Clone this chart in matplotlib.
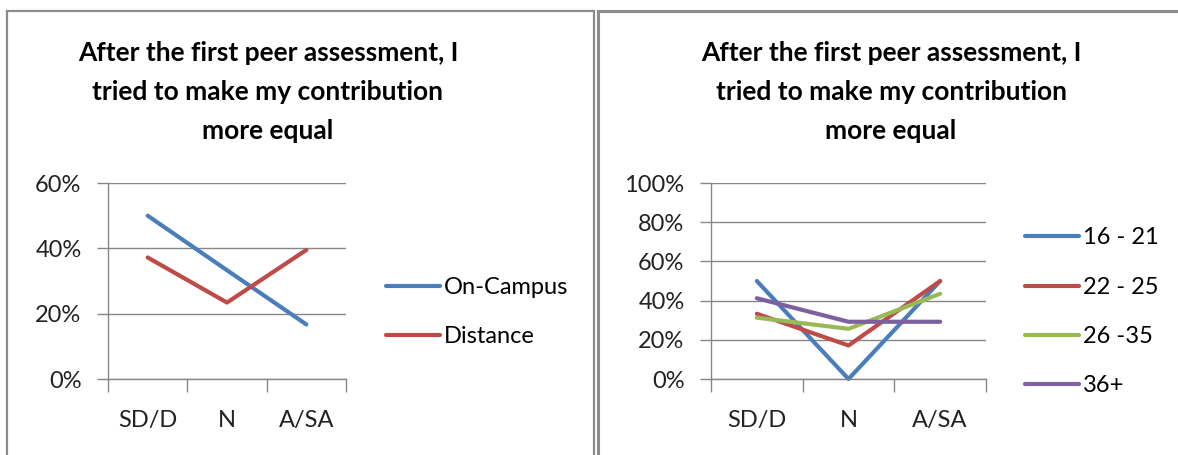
import numpy as np
import matplotlib.pyplot as plt
from matplotlib.patches import Rectangle
from matplotlib.ticker import FuncFormatter, FixedLocator

plt.rcParams['font.family'] = ['Lato', 'DejaVu Sans']

categories = ['SD/D', 'N', 'A/SA']
title = 'After the first peer assessment, I\ntried to make my contribution\nmore equal'

# left chart: study mode
mode_names = ['On-Campus', 'Distance']
on_campus = [50.0, 33.3, 16.7]
distance = [37.2, 23.4, 39.5]

# right chart: age groups
age_names = ['16 - 21', '22 - 25', '26 -35', '36+']
age_16_21 = [50.0, 0.0, 50.0]
age_22_25 = [33.3, 17.1, 50.0]
age_26_35 = [31.3, 25.6, 43.5]
age_36_up = [41.2, 29.2, 29.2]

colors = ['#4a7ebb', '#be4b48', '#98b954', '#7d60a0']
grid_col = '#868686'
FS = 17

W, H = 1178, 455
fig = plt.figure(figsize=(W / 100, H / 100), dpi=100)

def px(x0, y0, x1, y1):
    return [x0 / W, 1 - y1 / H, (x1 - x0) / W, (y1 - y0) / H]

# panel frames
fig.patches.append(Rectangle((7 / W, -0.1), (594 - 7) / W, 1.1 - 11 / H,
                             transform=fig.transFigure, fill=False,
                             edgecolor='#8c8c8c', linewidth=1.6))
fig.patches.append(Rectangle((598 / W, -0.1), 0.5, 1.1 - 11 / H,
                             transform=fig.transFigure, fill=False,
                             edgecolor='#8c8c8c', linewidth=2.2))


def setup(ax, ymax, step):
    ax.set_xlim(0, 3)
    ax.set_ylim(0, ymax)
    ax.set_yticks(np.arange(0, ymax + 1, step))
    ax.yaxis.set_major_formatter(FuncFormatter(lambda v, p: '%d%%' % v))
    ax.xaxis.set_major_locator(FixedLocator([0, 1, 2, 3]))
    ax.xaxis.set_minor_locator(FixedLocator([0.5, 1.5, 2.5]))
    ax.set_xticklabels([])
    ax.set_xticklabels(categories, minor=True)
    ax.tick_params(axis='x', which='major', length=9, width=1, color=grid_col,
                   direction='out')
    ax.tick_params(axis='x', which='minor', length=0, pad=22, labelsize=FS,
                   labelcolor='#222222')
    ax.tick_params(axis='y', length=8, width=1, color=grid_col, labelsize=FS,
                   labelcolor='#222222', pad=11)
    for s in ['top', 'right']:
        ax.spines[s].set_visible(False)
    for s in ['left', 'bottom']:
        ax.spines[s].set_color(grid_col)
        ax.spines[s].set_linewidth(1)
    ax.grid(axis='y', color=grid_col, linewidth=1)
    ax.set_axisbelow(True)


def legend(ax, x0):
    ax.legend(loc='center left', bbox_to_anchor=(x0 / W, 1 - 312 / H),
              bbox_transform=fig.transFigure, frameon=False, fontsize=FS,
              handlelength=2.3, handletextpad=0.15, labelspacing=1.2,
              borderpad=0, borderaxespad=0)


x = np.array([0.5, 1.5, 2.5])

ax1 = fig.add_axes(px(108, 183, 346, 379))
setup(ax1, 60, 20)
for vals, c, n in zip([on_campus, distance], colors, mode_names):
    ax1.plot(x, vals, color=c, linewidth=3, solid_capstyle='round',
             solid_joinstyle='round', label=n, clip_on=False)
legend(ax1, 386)

ax2 = fig.add_axes(px(711, 183, 986, 379))
setup(ax2, 100, 20)
for vals, c, n in zip([age_16_21, age_22_25, age_26_35, age_36_up], colors, age_names):
    ax2.plot(x, vals, color=c, linewidth=3, solid_capstyle='round',
             solid_joinstyle='round', label=n, clip_on=False)
legend(ax2, 1025)

fig.text(268 / W, 1 - 92 / H, title, ha='center', va='center', fontsize=19,
         fontweight='bold', linespacing=1.75)
fig.text(891 / W, 1 - 92 / H, title, ha='center', va='center', fontsize=19,
         fontweight='bold', linespacing=1.75)

fig.savefig('out.png', dpi=100)
